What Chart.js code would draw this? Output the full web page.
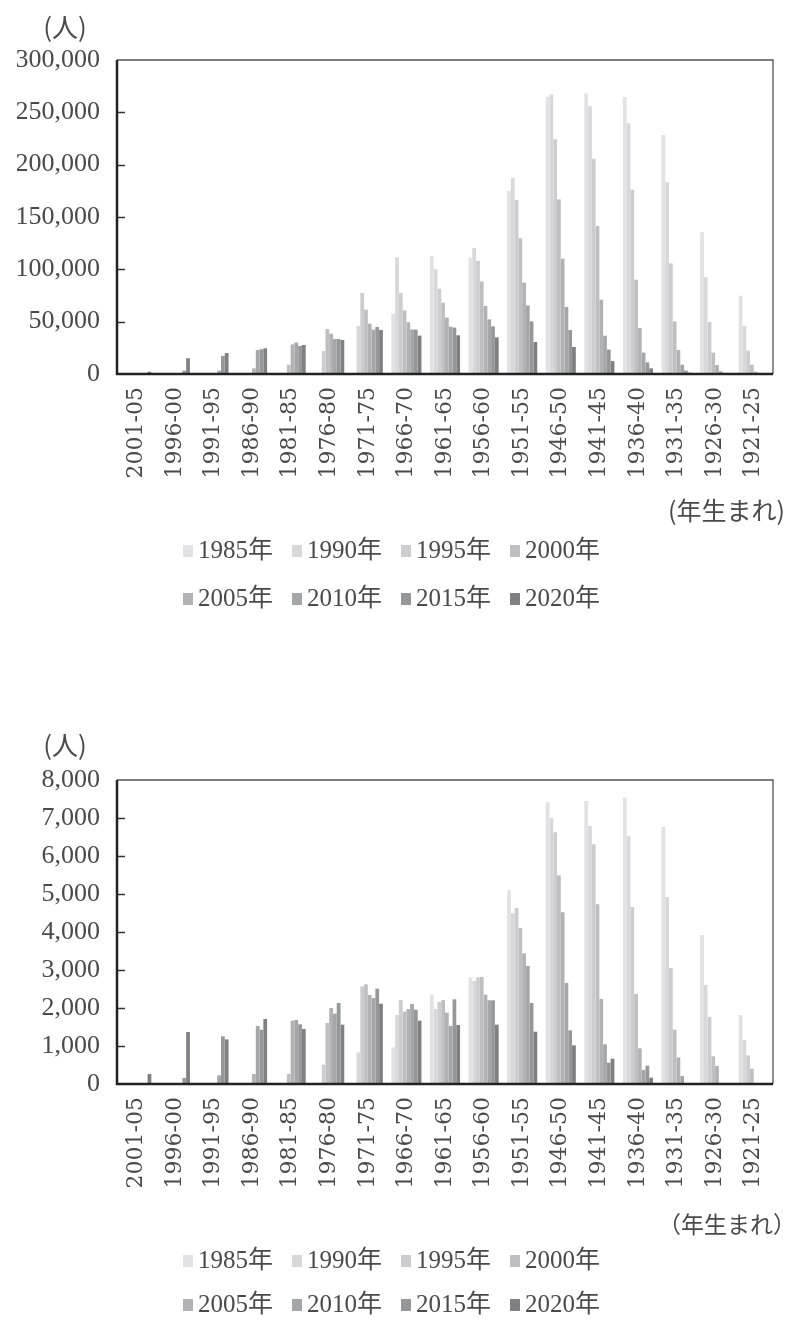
<!DOCTYPE html>
<html><head><meta charset="utf-8">
<script src="https://cdn.jsdelivr.net/npm/chart.js@4"></script>
<style>
html,body{margin:0;padding:0;background:#fff;width:786px;height:1324px;overflow:hidden;}
canvas{position:absolute;left:0;}
#c1{top:0;}
#c2{top:700px;}
</style></head>
<body>
<canvas id="c1" width="786" height="660"></canvas>
<canvas id="c2" width="786" height="624"></canvas>
<script>
const categories = ['2001-05','1996-00','1991-95','1986-90','1981-85','1976-80','1971-75','1966-70','1961-65','1956-60','1951-55','1946-50','1941-45','1936-40','1931-35','1926-30','1921-25'];
const seriesNames = ['1985年','1990年','1995年','2000年','2005年','2010年','2015年','2020年'];

// Upper chart values (人)
const top1985 = [0,0,0,0,0,0,0,57600,112700,110800,174900,265000,267900,264700,228400,135400,74800];
const top1990 = [0,0,0,0,0,0,45900,111500,100000,120400,187300,267200,255800,239500,183100,92400,45900];
const top1995 = [0,0,0,0,0,22000,77400,77400,81500,108000,166300,224200,205700,176100,105700,49700,22300];
const top2000 = [0,0,0,0,8900,43000,61500,60800,68200,88500,129600,166900,141400,90100,50300,20400,8900];
const top2005 = [0,0,0,5400,28300,38500,48100,49400,53800,65000,87300,110200,71000,44000,22900,8600,2200];
const top2010 = [0,0,3200,22900,30000,33400,42400,42400,45200,52200,65600,64000,36600,20400,8900,2500,1000];
const top2015 = [0,3200,17200,23600,26800,33400,44900,42400,44300,45500,50300,42000,23300,11100,3200,1000,300];
const top2020 = [2200,15000,20000,24500,27700,32500,42000,36600,37000,35000,30600,25800,12400,5400,1300,300,100];

// Lower chart values (人)
const bot1985 = [0,0,0,0,0,0,0,965,2342,2807,5097,7412,7447,7535,6763,3921,1816];
const bot1990 = [0,0,0,0,0,0,833,1816,1974,2711,4491,7000,6790,6518,4921,2605,1158];
const bot1995 = [0,0,0,0,0,509,2570,2211,2158,2807,4632,6623,6307,4658,3053,1763,754];
const bot2000 = [0,0,0,0,263,1605,2623,1904,2211,2816,4105,5491,4728,2368,1430,728,404];
const bot2005 = [0,0,0,263,1667,2000,2342,1974,1877,2351,3439,4518,2237,939,702,474,0];
const bot2010 = [0,0,228,1526,1684,1851,2263,2105,1526,2202,3105,2658,1045,368,211,0,0];
const bot2015 = [0,158,1254,1430,1570,2132,2509,1956,2228,2202,2132,1412,561,482,0,0,0];
const bot2020 = [263,1368,1175,1710,1447,1561,2114,1667,1553,1561,1377,1018,666,167,0,0,0];

const topTicks = [0,50000,100000,150000,200000,250000,300000];
const botTicks = [0,1000,2000,3000,4000,5000,6000,7000,8000];

const colors = ['#e2e2e4','#d8d8da','#cdcdcf','#bfbfc1','#b2b2b4','#a5a6a8','#969799','#808083'];
const TXT = '#4a4a4a';

function fmt(v){ return Number(v).toLocaleString('en-US'); }

function decorPlugin(cfg){
  return {
    id:'decor',
    afterDraw(chart){
      const ctx = chart.ctx, a = chart.chartArea, ys = chart.scales.y;
      ctx.save();
      ctx.strokeStyle = '#333'; ctx.lineWidth = 1.5;
      ys.ticks.forEach(t => {
        if (t.value === ys.min || t.value === ys.max) return;
        const y = Math.round(ys.getPixelForValue(t.value)) + 0.5;
        ctx.beginPath(); ctx.moveTo(a.left, y); ctx.lineTo(a.left + 8, y); ctx.stroke();
      });
      ctx.strokeStyle = '#555'; ctx.lineWidth = 1.3;
      ctx.beginPath(); ctx.moveTo(a.left, a.top); ctx.lineTo(a.right, a.top); ctx.lineTo(a.right, a.bottom); ctx.stroke();
      ctx.strokeStyle = '#222'; ctx.lineWidth = 2.5;
      ctx.beginPath(); ctx.moveTo(a.left, a.top); ctx.lineTo(a.left, a.bottom); ctx.lineTo(a.right, a.bottom); ctx.stroke();
      ctx.fillStyle = TXT;
      ctx.font = "26px 'Noto Sans CJK JP'";
      ctx.textAlign = 'center'; ctx.textBaseline = 'middle';
      ctx.fillText('(人)', 65, cfg.unitY);
      ctx.font = cfg.capFont;
      ctx.textAlign = 'right';
      ctx.fillText(cfg.xCaption, cfg.capX, cfg.capY);
      ctx.textAlign = 'left';
      ctx.font = "25px 'Liberation Serif','Noto Sans CJK JP'";
      chart.data.datasets.forEach((ds, i) => {
        const row = Math.floor(i / 4), col = i % 4;
        const x = 183 + col * 109;
        const y = cfg.legendY[row];
        ctx.fillStyle = ds.backgroundColor;
        ctx.fillRect(x, y - 6, 10, 12);
        ctx.fillStyle = TXT;
        ctx.fillText(ds.label, x + 15, y);
      });
      ctx.restore();
    }
  };
}

function makeChart(id, series, yMax, yStep, H, areaTop, areaBottom, cfg){
  const xH = 120;
  return new Chart(document.getElementById(id), {
    type:'bar',
    data:{
      labels: categories,
      datasets: series.map((d,i)=>({label: seriesNames[i], data: d, backgroundColor: colors[i], borderWidth:0}))
    },
    options:{
      responsive:false, animation:false,
      layout:{padding:{left:17, right:13, top:areaTop, bottom:H - areaBottom - xH}},
      datasets:{bar:{categoryPercentage:0.78, barPercentage:1.0}},
      plugins:{legend:{display:false}, tooltip:{enabled:false}},
      scales:{
        x:{
          grid:{display:false, drawTicks:false}, border:{display:false},
          ticks:{autoSkip:false, minRotation:90, maxRotation:90, padding:13, color:TXT,
                 font:{family:"'DejaVu Serif'", size:22}},
          afterFit(s){ s.height = xH; s.paddingLeft = 0; s.paddingRight = 0; }
        },
        y:{
          min:0, max:yMax,
          grid:{display:false, drawTicks:false}, border:{display:false},
          ticks:{stepSize:yStep, padding:17, color:TXT, font:{family:"'Liberation Serif'", size:26},
                 callback:(v)=>fmt(v)},
          afterFit(s){ s.width = 100; s.paddingTop = 0; s.paddingBottom = 0; }
        }
      }
    },
    plugins:[decorPlugin(cfg)]
  });
}

makeChart('c1', [top1985,top1990,top1995,top2000,top2005,top2010,top2015,top2020],
  topTicks[topTicks.length-1], topTicks[1]-topTicks[0], 660, 60, 374,
  {unitY:27, xCaption:'(年生まれ)', capFont:"25px 'Noto Sans CJK JP'", capX:785, capY:510, legendY:[551,599]});

makeChart('c2', [bot1985,bot1990,bot1995,bot2000,bot2005,bot2010,bot2015,bot2020],
  botTicks[botTicks.length-1], botTicks[1]-botTicks[0], 624, 80, 384,
  {unitY:45, xCaption:'（年生まれ）', capFont:"23px 'Noto Sans CJK JP'", capX:796, capY:524, legendY:[561,605]});
</script>
</body></html>
